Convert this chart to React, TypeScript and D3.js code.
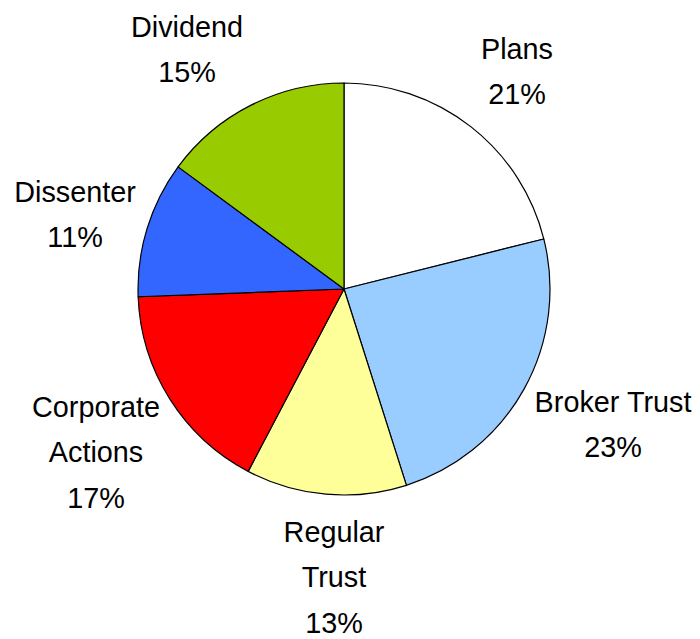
import React from "react";
import * as d3 from "d3";

const categories = ["Plans", "Broker Trust", "Regular Trust", "Corporate Actions", "Dissenter", "Dividend"];
const values = [21.1, 24.0, 12.6, 16.7, 10.7, 14.9];
const colors = ["#FFFFFF", "#99CCFF", "#FFFF99", "#FF0000", "#3366FF", "#99CC00"];
const labelLines = [["Plans", "21%"], ["Broker Trust", "23%"], ["Regular", "Trust", "13%"], ["Corporate", "Actions", "17%"], ["Dissenter", "11%"], ["Dividend", "15%"]];
const labelPos: [number, number][] = [[517, 59], [613, 412], [334, 542], [96, 417], [75, 202], [187, 37]];

export default function App() {
  const W = 700, H = 639;
  const cx = 344, cy = 289, r = 206;
  const pie = d3.pie<number>().sort(null).value((d) => d)(values);
  const arc = d3.arc<d3.PieArcDatum<number>>().innerRadius(0).outerRadius(r);
  const lineGap = 45.5;
  return (
    <svg width={W} height={H} style={{ position: "absolute", left: 0, top: 0 }}>
      <g transform={`translate(${cx},${cy})`}>
        {pie.map((p, i) => (
          <path key={categories[i]} d={arc(p) || ""} fill={colors[i]} stroke="#000" strokeWidth={1.2} strokeLinejoin="round" />
        ))}
      </g>
      {labelLines.map((lines, i) => (
        <g key={i} transform={`translate(${labelPos[i][0]},${labelPos[i][1]}) scale(0.96,1)`}>
          {lines.map((t, j) => (
            <text key={j} x={0} y={j * lineGap} textAnchor="middle" fontFamily="'Liberation Sans', Arial, sans-serif" fontSize={30} fill="#000">
              {t}
            </text>
          ))}
        </g>
      ))}
    </svg>
  );
}
